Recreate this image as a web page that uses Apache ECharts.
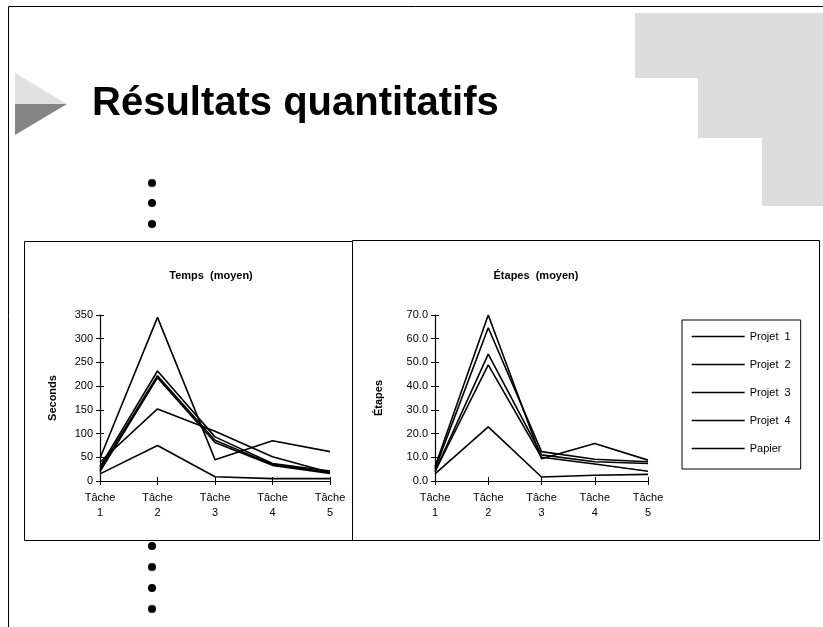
<!DOCTYPE html>
<html>
<head>
<meta charset="utf-8">
<script src="https://cdn.jsdelivr.net/npm/echarts@6/dist/echarts.min.js"></script>
<style>
html,body{margin:0;padding:0;background:#fff;}
#main{width:823px;height:627px;}
</style>
</head>
<body>
<div id="main"></div>
<script>
// ---- data ----
const categories = ['Tâche\n1', 'Tâche\n2', 'Tâche\n3', 'Tâche\n4', 'Tâche\n5'];
const seriesNames = ['Projet 1', 'Projet 2', 'Projet 3', 'Projet 4', 'Papier'];
const extraName = 'Série 6';

// Temps (moyen), seconds
const tempsP1 = [48, 345, 45, 85, 62];
const tempsP2 = [30, 232, 93, 37, 21];
const tempsP3 = [25, 222, 86, 35, 18];
const tempsP4 = [20, 218, 81, 33, 16];
const tempsPapier = [15, 75, 9, 5, 5];
const tempsExtra = [40, 152, 105, 51, 18];

// Étapes (moyen)
const etapesP1 = [6, 70, 9.4, 15.8, 8.8];
const etapesP2 = [5, 64.6, 12.4, 9.2, 8.1];
const etapesP3 = [4, 53.5, 11, 8.1, 7.4];
const etapesP4 = [4, 49, 10, 7.2, 4.1];
const etapesPapier = [3, 22.8, 1.7, 2.4, 2.8];

const leftTicks = {min: 0, max: 350, interval: 50};
const rightTicks = {min: 0, max: 70, interval: 10};

// ---- chart ----
const FONT = "'Liberation Sans', Arial, sans-serif";
const chart = echarts.init(document.getElementById('main'), null, {renderer: 'canvas'});

function lineSeries(name, data, idx) {
  return {
    name: name, type: 'line', data: data,
    xAxisIndex: idx, yAxisIndex: idx,
    symbol: 'none', showSymbol: false, smooth: false, animation: false,
    lineStyle: {color: '#000', width: 1.6},
    itemStyle: {color: '#000'},
    emphasis: {disabled: true}
  };
}

const axisText = {color: '#000', fontFamily: FONT, fontSize: 11};

function xAxes(gridIndex) {
  return [
    {
      type: 'category', gridIndex: gridIndex, data: categories, boundaryGap: false,
      axisLine: {lineStyle: {color: '#000', width: 1.2}},
      axisTick: {show: true, length: 4, inside: false, lineStyle: {color: '#000'}},
      axisLabel: Object.assign({margin: 9, lineHeight: 15, interval: 0}, axisText),
      splitLine: {show: false}
    },
    {
      type: 'category', gridIndex: gridIndex, data: categories, boundaryGap: false, position: 'bottom',
      axisLine: {show: false},
      axisTick: {show: true, length: 4, inside: true, lineStyle: {color: '#000'}},
      axisLabel: {show: false}, splitLine: {show: false}
    }
  ];
}

function yAxes(gridIndex, ticks, name, fmt, nameGap) {
  return [
    {
      type: 'value', gridIndex: gridIndex, min: ticks.min, max: ticks.max, interval: ticks.interval,
      name: name, nameLocation: 'middle', nameGap: nameGap, nameRotate: 90,
      nameTextStyle: {color: '#000', fontFamily: FONT, fontSize: 11, fontWeight: 'bold'},
      axisLine: {show: true, lineStyle: {color: '#000', width: 1.2}},
      axisTick: {show: true, length: 4, inside: false, lineStyle: {color: '#000'}},
      axisLabel: Object.assign({margin: 7, formatter: fmt}, axisText),
      splitLine: {show: false}
    },
    {
      type: 'value', gridIndex: gridIndex, min: ticks.min, max: ticks.max, interval: ticks.interval,
      position: 'left',
      axisLine: {show: false},
      axisTick: {show: true, length: 4, inside: true, lineStyle: {color: '#000'}},
      axisLabel: {show: false}, splitLine: {show: false}
    }
  ];
}

const xa = xAxes(0).concat(xAxes(1));
const ya = yAxes(0, leftTicks, 'Seconds', v => String(v), 42)
  .concat(yAxes(1, rightTicks, 'Étapes', v => v.toFixed(1), 51));

const leftData = [tempsP1, tempsP2, tempsP3, tempsP4, tempsPapier];
const rightData = [etapesP1, etapesP2, etapesP3, etapesP4, etapesPapier];

const series = [];
seriesNames.forEach((n, i) => series.push(lineSeries(n, leftData[i], 0)));
series.push(lineSeries(extraName, tempsExtra, 0));
seriesNames.forEach((n, i) => series.push(lineSeries(n, rightData[i], 2)));

const bulletsY = [183, 203, 224, 546, 567, 588, 609];

const graphics = [
  // slide border
  {type: 'polyline', shape: {points: [[8.5, 627], [8.5, 6.5], [823, 6.5]]}, style: {stroke: '#000', lineWidth: 1, fill: null}, z: 10},
  // gray staircase
  {type: 'rect', shape: {x: 635, y: 13, width: 188, height: 65}, style: {fill: '#dddddd'}, z: 1},
  {type: 'rect', shape: {x: 698, y: 78, width: 125, height: 60}, style: {fill: '#dddddd'}, z: 1},
  {type: 'rect', shape: {x: 762, y: 138, width: 61, height: 68}, style: {fill: '#dddddd'}, z: 1},
  // triangle
  {type: 'polygon', shape: {points: [[15, 73], [67, 104], [15, 104]]}, style: {fill: '#e0e0e0'}, z: 1},
  {type: 'polygon', shape: {points: [[15, 104], [67, 104], [15, 135]]}, style: {fill: '#858585'}, z: 1},
  // slide title
  {type: 'text', x: 92, y: 104, style: {text: 'Résultats quantitatifs', fill: '#000', font: "bold 40px 'Liberation Sans', Arial, sans-serif", textVerticalAlign: 'middle', textAlign: 'left'}, z: 5},
  // chart boxes
  {type: 'rect', shape: {x: 24.5, y: 241.5, width: 328, height: 299}, style: {fill: null, stroke: '#000', lineWidth: 1}, z: 5},
  {type: 'rect', shape: {x: 352.5, y: 240.5, width: 467, height: 300}, style: {fill: null, stroke: '#000', lineWidth: 1}, z: 5},
  // chart titles
  {type: 'text', x: 211, y: 276, style: {text: 'Temps  (moyen)', fill: '#000', font: "bold 11px 'Liberation Sans', Arial, sans-serif", textAlign: 'center', textVerticalAlign: 'middle'}, z: 5},
  {type: 'text', x: 536, y: 276, style: {text: 'Étapes  (moyen)', fill: '#000', font: "bold 11px 'Liberation Sans', Arial, sans-serif", textAlign: 'center', textVerticalAlign: 'middle'}, z: 5}
];
bulletsY.forEach(y => graphics.push({type: 'circle', shape: {cx: 152, cy: y, r: 4}, style: {fill: '#000'}, z: 5}));

chart.setOption({
  animation: false,
  backgroundColor: '#fff',
  textStyle: {fontFamily: FONT},
  grid: [
    {left: 100, top: 315, width: 230, height: 166, containLabel: false},
    {left: 435, top: 315, width: 213, height: 166, containLabel: false}
  ],
  xAxis: xa,
  yAxis: ya,
  legend: {
    data: seriesNames,
    orient: 'vertical',
    left: 682, top: 320,
    padding: [11, 10, 15, 9],
    itemGap: 17,
    itemWidth: 53, itemHeight: 12,
    borderColor: '#000', borderWidth: 1,
    selectedMode: false,
    itemStyle: {opacity: 0},
    lineStyle: {color: '#000', width: 1.4},
    formatter: n => n.replace(' ', '  '),
    textStyle: {color: '#000', fontFamily: FONT, fontSize: 11}
  },
  graphic: graphics,
  series: series
});
</script>
</body>
</html>
